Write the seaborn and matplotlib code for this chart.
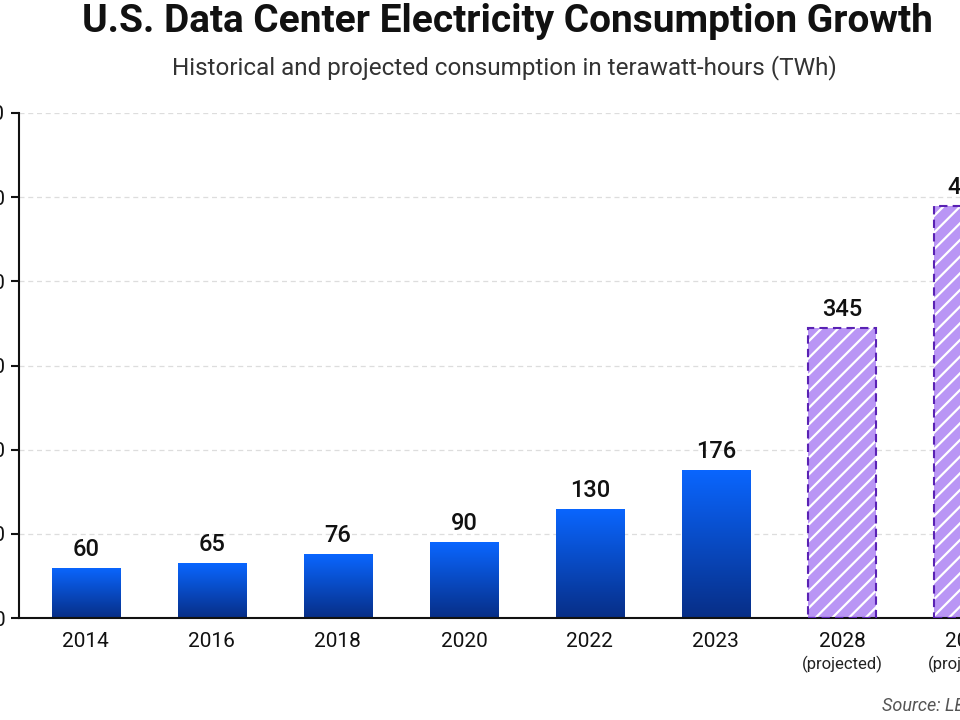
import numpy as np
import matplotlib
matplotlib.use('Agg')
import matplotlib.pyplot as plt
import matplotlib.transforms as mtransforms
from matplotlib.colors import LinearSegmentedColormap
import seaborn as sns

# chart data
years = ['2014', '2016', '2018', '2020', '2022', '2023', '2028', '2030']
consumption_twh = [60, 65, 76, 90, 130, 176, 345, 490]
is_projected = [False, False, False, False, False, False, True, True]
y_ticks = [0, 100, 200, 300, 400, 500, 600]

sns.set_style('white')
plt.rcParams['font.family'] = ['Roboto', 'DejaVu Sans']
plt.rcParams['hatch.linewidth'] = 1.6

fig = plt.figure(figsize=(9.6, 7.2), dpi=100)
# axes run past the right edge on purpose, like the reference crop
ax = fig.add_axes([19 / 960, 102 / 720, 1012 / 960, 505 / 720])

sns.barplot(x=years, y=consumption_twh, ax=ax, width=0.54,
            color='#0a5cf0', saturation=1, zorder=2)

blue_cmap = LinearSegmentedColormap.from_list('bars', ['#072e86', '#0a66ff'])
grad = np.linspace(0, 1, 256).reshape(-1, 1)

for patch, val, proj in zip(ax.patches, consumption_twh, is_projected):
    x0 = patch.get_x()
    w = patch.get_width()
    if proj:
        patch.set_facecolor('#b995f5')
        patch.set_edgecolor('white')
        patch.set_hatch('//')
        patch.set_linewidth(0)
        ax.bar(x0 + w / 2, val, width=w, facecolor='none', edgecolor='#5a22b4',
               linestyle=(0, (4, 2.5)), linewidth=1.5, zorder=3)
    else:
        patch.set_facecolor('none')
        patch.set_linewidth(0)
        im = ax.imshow(grad, extent=[x0, x0 + w, 0, val], origin='lower',
                       aspect='auto', cmap=blue_cmap, zorder=2)
        im.set_clip_path(patch)
    ax.annotate(str(val), (x0 + w / 2, val), xytext=(0, 5), textcoords='offset points',
                ha='center', va='bottom', fontsize=17, fontweight='medium', color='#111111')

ax.set_xlim(-0.53, 7.5)
ax.set_ylim(0, 600)
ax.set_yticks(y_ticks)
ax.yaxis.grid(True, linestyle=(0, (4, 3)), color='#dddddd', linewidth=0.9, zorder=0)
ax.set_axisbelow(True)

for side in ['top', 'right']:
    ax.spines[side].set_visible(False)
for side in ['left', 'bottom']:
    ax.spines[side].set_linewidth(1.5)
    ax.spines[side].set_color('#111111')

ax.tick_params(axis='x', length=0, pad=10, labelsize=15, colors='#111111')
ax.tick_params(axis='y', length=6, width=1.5, pad=4, labelsize=15, colors='#111111', left=True)
ax.set_xlabel('')
ax.set_ylabel('')

# "(projected)" under the future years
trans = mtransforms.blended_transform_factory(ax.transData, ax.transAxes)
for i, proj in enumerate(is_projected):
    if proj:
        ax.text(i, -0.091, '(projected)', transform=trans, ha='center', va='center',
                fontsize=12, color='#222222')

fig.text(507 / 960, 1 - 21 / 720, 'U.S. Data Center Electricity Consumption Growth',
         ha='center', va='center', fontsize=28, fontweight='bold', color='#111111')
fig.text(504 / 960, 1 - 68 / 720, 'Historical and projected consumption in terawatt-hours (TWh)',
         ha='center', va='center', fontsize=17.5, color='#333333')
fig.text(882 / 960, 14 / 720, 'Source: LBNL (2024)', ha='left', va='center',
         fontsize=13, style='italic', color='#555555')

fig.savefig('out.png', dpi=100)
